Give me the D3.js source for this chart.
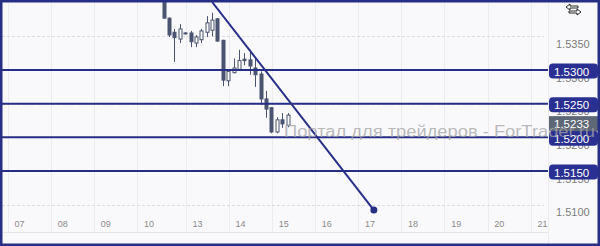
<!DOCTYPE html>
<meta charset="utf-8">
<style>
body { margin: 0; background: #fff; }
text { font-family: "Liberation Sans", Arial, sans-serif; }
</style>
<body>
<script src="https://d3js.org/d3.v7.min.js"></script>
<script>

// day labels on the time axis and the bar index where each day label sits
var dayLabels = ["07","08","09","10","13","14","15","16","17","18","19","20","21"];
var dayIdx    = [0, 8, 16, 24, 33, 41, 49, 57, 65, 73, 81, 89, 97];

// candles: bar index, open, high, low, close
var barIdx = [27,28,29,30,31,32,33,34,35,36,37,38,39,40,41,42,43,44,45,46,47,48,49,50];
var opens  = [1.5419,1.5377,1.5356,1.5346,1.5355,1.5355,1.5340,1.5345,1.5356,1.5359,1.5376,1.5344,1.5284,1.5296,1.5301,1.5316,1.5315,1.5303,1.5294,1.5257,1.5244,1.5208,1.5226,1.5218];
var highs  = [1.5425,1.5378,1.5361,1.5368,1.5356,1.5358,1.5352,1.5361,1.5380,1.5385,1.5377,1.5345,1.5301,1.5317,1.5330,1.5325,1.5330,1.5319,1.5298,1.5269,1.5245,1.5230,1.5236,1.5236];
var lows   = [1.5376,1.5349,1.5312,1.5340,1.5353,1.5334,1.5334,1.5340,1.5349,1.5350,1.5342,1.5276,1.5276,1.5295,1.5300,1.5307,1.5293,1.5275,1.5248,1.5229,1.5206,1.5206,1.5214,1.5215];
var closes = [1.5377,1.5352,1.5348,1.5361,1.5354,1.5342,1.5349,1.5358,1.5370,1.5374,1.5343,1.5285,1.5298,1.5303,1.5314,1.5314,1.5306,1.5293,1.5257,1.5242,1.5208,1.5226,1.5220,1.5233];

// price axis ticks, drawn horizontal levels, trend line and last price
var priceTicks = [1.5350, 1.5300, 1.5250, 1.5200, 1.5150, 1.5100];
var levels     = [1.5300, 1.5250, 1.5200, 1.5150];
var trendIdx   = [36, 66];
var trendPrice = [1.5401, 1.5092];
var lastPrice  = 1.5233;

var width = 600,
    height = 246,
    plotRight = 548,
    plotBottom = 232,
    navy = "#272e86",
    bear = "#4b5470";

var x = d3.scaleLinear().domain([0, 97]).range([18, 541]);
var y = d3.scaleLinear().domain([1.5100, 1.5300]).range([204.7, 70]);
var fmt = d3.format(".4f");

var svg = d3.select("body").append("svg")
    .attr("width", width)
    .attr("height", height);

svg.append("rect")
    .attr("width", width).attr("height", height)
    .attr("fill", "#f9f9fb");

svg.append("clipPath").attr("id", "plot")
  .append("rect")
    .attr("x", 2).attr("y", 2)
    .attr("width", plotRight - 2).attr("height", plotBottom - 2);

// grid
var grid = svg.append("g").attr("clip-path", "url(#plot)");
grid.selectAll(".vg")
    .data(dayIdx)
  .enter().append("line")
    .attr("x1", function(d) { return Math.round(x(d - 1.9)) + 0.5; })
    .attr("x2", function(d) { return Math.round(x(d - 1.9)) + 0.5; })
    .attr("y1", 2).attr("y2", plotBottom)
    .attr("stroke", "#ececef");
grid.selectAll(".hg")
    .data(priceTicks)
  .enter().append("line")
    .attr("x1", 2).attr("x2", plotRight - 4)
    .attr("y1", function(d) { return Math.round(y(d)) + 0.5; })
    .attr("y2", function(d) { return Math.round(y(d)) + 0.5; })
    .attr("stroke", "#dcdcdc")
    .attr("stroke-dasharray", "3,2");

// axis separators
svg.append("line")
    .attr("x1", 2).attr("x2", plotRight)
    .attr("y1", plotBottom + 0.5).attr("y2", plotBottom + 0.5)
    .attr("stroke", "#e4e4e6");
svg.append("line")
    .attr("x1", plotRight + 0.5).attr("x2", plotRight + 0.5)
    .attr("y1", 2).attr("y2", height - 2)
    .attr("stroke", "#ececef");

// time labels
svg.selectAll(".tl")
    .data(dayLabels)
  .enter().append("text")
    .attr("x", function(d, i) { return x(dayIdx[i]) + 1.5; })
    .attr("y", 227)
    .attr("text-anchor", "middle")
    .attr("font-size", 9)
    .attr("fill", "#8a8a8a")
    .text(function(d) { return d; });

// price labels
svg.selectAll(".pl")
    .data(priceTicks)
  .enter().append("text")
    .attr("x", 556)
    .attr("y", function(d) { return y(d) + 11.5; })
    .attr("font-size", 11)
    .attr("fill", "#7d7d7d")
    .text(function(d) { return fmt(d); });

// candles
var plot = svg.append("g").attr("clip-path", "url(#plot)");
var candles = plot.selectAll(".c")
    .data(barIdx)
  .enter().append("g");

candles.append("line")
    .attr("x1", function(d) { return Math.round(x(d)) + 0.5; })
    .attr("x2", function(d) { return Math.round(x(d)) + 0.5; })
    .attr("y1", function(d, i) { return y(highs[i]); })
    .attr("y2", function(d, i) { return y(lows[i]); })
    .attr("stroke", bear);

candles.append("rect")
    .attr("x", function(d) { return Math.round(x(d)) - 1; })
    .attr("width", 3)
    .attr("y", function(d, i) { return y(Math.max(opens[i], closes[i])); })
    .attr("height", function(d, i) { return Math.max(1, Math.abs(y(opens[i]) - y(closes[i]))); })
    .attr("fill", function(d, i) { return closes[i] >= opens[i] ? "#fff" : bear; })
    .attr("stroke", bear)
    .attr("stroke-width", 1);

// horizontal levels
plot.selectAll(".lv")
    .data(levels)
  .enter().append("line")
    .attr("x1", 2).attr("x2", plotRight)
    .attr("y1", function(d) { return y(d); })
    .attr("y2", function(d) { return y(d); })
    .attr("stroke", navy)
    .attr("stroke-width", 2);

// trend line
plot.append("line")
    .attr("x1", x(trendIdx[0])).attr("y1", y(trendPrice[0]))
    .attr("x2", x(trendIdx[1])).attr("y2", y(trendPrice[1]))
    .attr("stroke", navy)
    .attr("stroke-width", 2);
plot.append("circle")
    .attr("cx", x(trendIdx[1])).attr("cy", y(trendPrice[1]))
    .attr("r", 3.5)
    .attr("fill", navy);

// level tags
var tags = svg.selectAll(".tag")
    .data(levels)
  .enter().append("g")
    .attr("transform", function(d) { return "translate(549," + (y(d) + 1) + ")"; });
tags.append("rect")
    .attr("x", 0).attr("y", -7.5)
    .attr("width", 49).attr("height", 15)
    .attr("rx", 4)
    .attr("fill", "#2a3092");
tags.append("text")
    .attr("x", 5).attr("y", 4.5)
    .attr("font-size", 11.5)
    .attr("fill", "#fff")
    .text(function(d) { return fmt(d); });

// last price tag
var lp = svg.append("g")
    .attr("transform", "translate(549," + (y(lastPrice) + 8.5) + ")");
lp.append("rect")
    .attr("x", 0).attr("y", -7.5)
    .attr("width", 49).attr("height", 15)
    .attr("fill", "#5d6775");
lp.append("text")
    .attr("x", 5).attr("y", 4.5)
    .attr("font-size", 11.5)
    .attr("fill", "#fff")
    .text(fmt(lastPrice));

// watermark
svg.append("text")
    .attr("x", 284).attr("y", 137)
    .attr("font-size", 16)
    .attr("textLength", 311)
    .attr("lengthAdjust", "spacingAndGlyphs")
    .attr("fill", "#a4a4a8")
    .attr("fill-opacity", 0.75)
    .text("Портал для трейдеров - ForTrader.ru");

// small icon top right
var ic = svg.append("g")
    .attr("fill", "#fff")
    .attr("stroke", "#111")
    .attr("stroke-width", 0.9);
ic.append("path").attr("d", "M566,7 L570,4 L570,6 L578,6 L578,8 L570,8 L570,10 Z");
ic.append("path").attr("d", "M581,12 L577,15 L577,13 L569,13 L569,11 L577,11 L577,9 Z");

// frame
svg.append("rect")
    .attr("x", 1.25).attr("y", 1.25)
    .attr("width", width - 2.5).attr("height", height - 2.5)
    .attr("fill", "none")
    .attr("stroke", navy)
    .attr("stroke-width", 2.5);

</script>
